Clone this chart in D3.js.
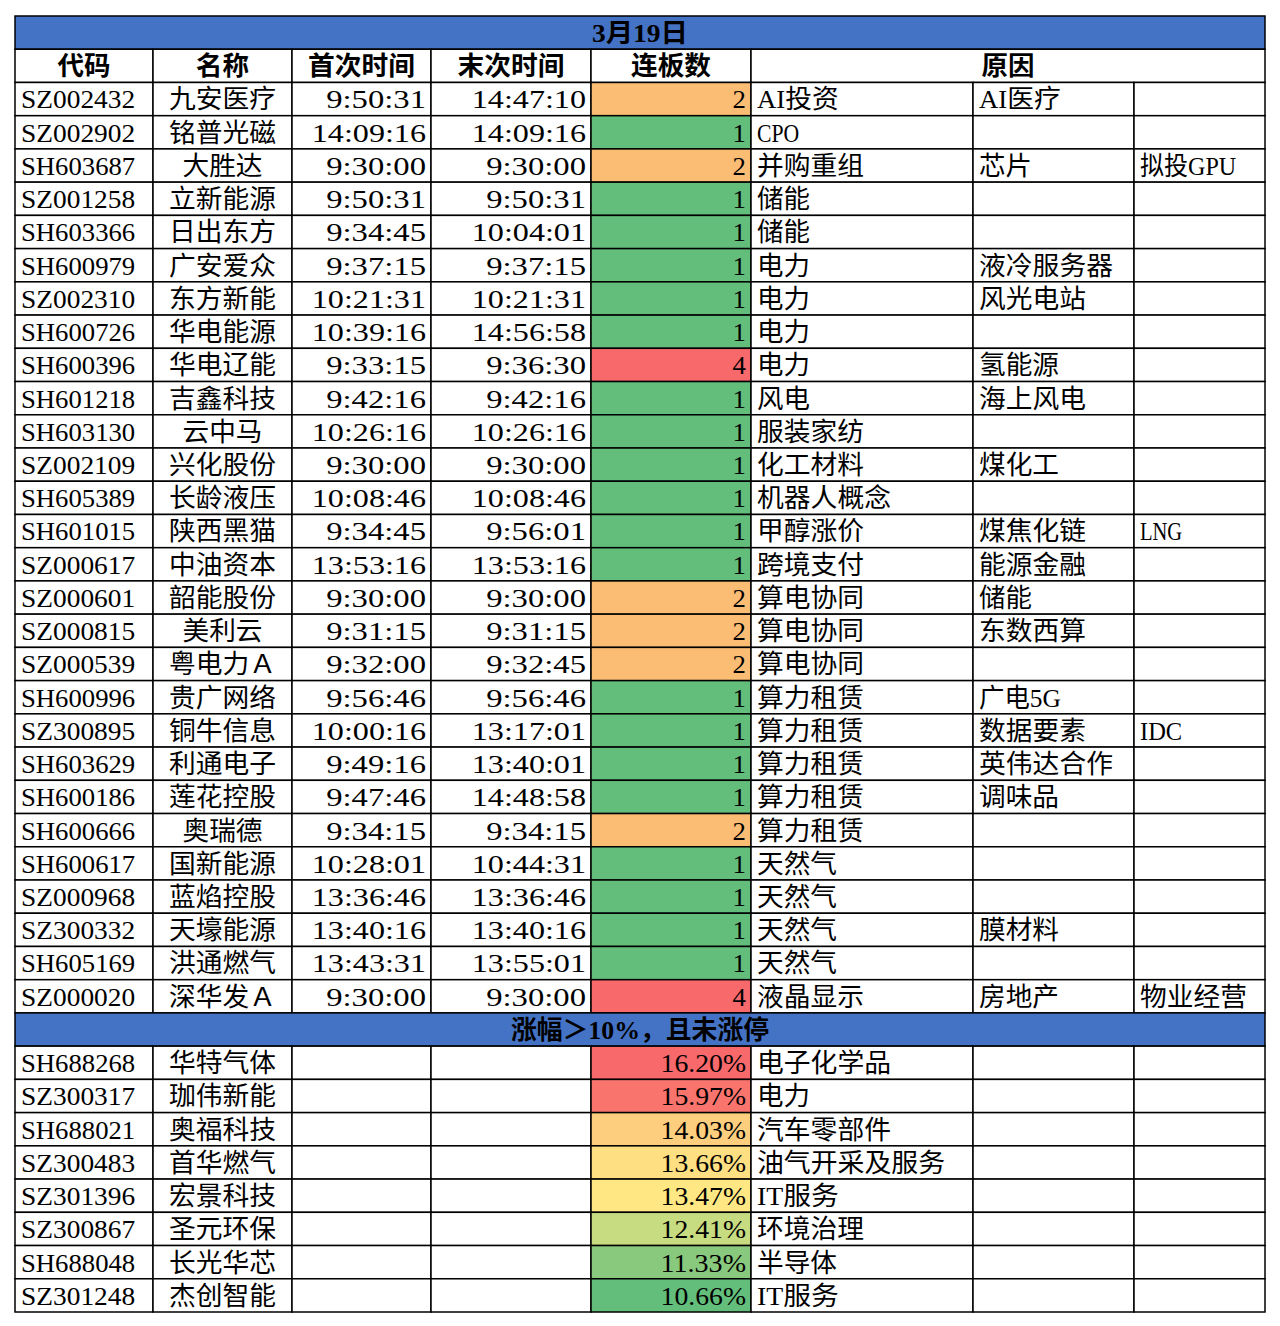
<!DOCTYPE html>
<html><head><meta charset="utf-8">
<script src="https://cdn.jsdelivr.net/npm/d3@7"></script>
<style>body{margin:0;background:#fff}svg text{font-family:"Liberation Serif","Noto Sans CJK SC",serif;font-size:26px;fill:#000}</style>
</head><body><svg id="c" width="1280" height="1326"></svg>
<script>
const title = '3月19日';
const subTitle = '涨幅＞10%，且未涨停';
const headers = ['代码','名称','首次时间','末次时间','连板数','原因'];
const codes = ['SZ002432','SZ002902','SH603687','SZ001258','SH603366','SH600979','SZ002310','SH600726','SH600396','SH601218','SH603130','SZ002109','SH605389','SH601015','SZ000617','SZ000601','SZ000815','SZ000539','SH600996','SZ300895','SH603629','SH600186','SH600666','SH600617','SZ000968','SZ300332','SH605169','SZ000020'];
const names = ['九安医疗','铭普光磁','大胜达','立新能源','日出东方','广安爱众','东方新能','华电能源','华电辽能','吉鑫科技','云中马','兴化股份','长龄液压','陕西黑猫','中油资本','韶能股份','美利云','粤电力Ａ','贵广网络','铜牛信息','利通电子','莲花控股','奥瑞德','国新能源','蓝焰控股','天壕能源','洪通燃气','深华发Ａ'];
const firstTimes = ['9:50:31','14:09:16','9:30:00','9:50:31','9:34:45','9:37:15','10:21:31','10:39:16','9:33:15','9:42:16','10:26:16','9:30:00','10:08:46','9:34:45','13:53:16','9:30:00','9:31:15','9:32:00','9:56:46','10:00:16','9:49:16','9:47:46','9:34:15','10:28:01','13:36:46','13:40:16','13:43:31','9:30:00'];
const lastTimes = ['14:47:10','14:09:16','9:30:00','9:50:31','10:04:01','9:37:15','10:21:31','14:56:58','9:36:30','9:42:16','10:26:16','9:30:00','10:08:46','9:56:01','13:53:16','9:30:00','9:31:15','9:32:45','9:56:46','13:17:01','13:40:01','14:48:58','9:34:15','10:44:31','13:36:46','13:40:16','13:55:01','9:30:00'];
const boards = [2,1,2,1,1,1,1,1,4,1,1,1,1,1,1,2,2,2,1,1,1,1,2,1,1,1,1,4];
const reason1 = ['AI投资','CPO','并购重组','储能','储能','电力','电力','电力','电力','风电','服装家纺','化工材料','机器人概念','甲醇涨价','跨境支付','算电协同','算电协同','算电协同','算力租赁','算力租赁','算力租赁','算力租赁','算力租赁','天然气','天然气','天然气','天然气','液晶显示'];
const reason2 = ['AI医疗','','芯片','','','液冷服务器','风光电站','','氢能源','海上风电','','煤化工','','煤焦化链','能源金融','储能','东数西算','','广电5G','数据要素','英伟达合作','调味品','','','','膜材料','','房地产'];
const reason3 = ['','','拟投GPU','','','','','','','','','','','LNG','','','','','','IDC','','','','','','','','物业经营'];
const codes2 = ['SH688268','SZ300317','SH688021','SZ300483','SZ301396','SZ300867','SH688048','SZ301248'];
const names2 = ['华特气体','珈伟新能','奥福科技','首华燃气','宏景科技','圣元环保','长光华芯','杰创智能'];
const pcts = [16.20,15.97,14.03,13.66,13.47,12.41,11.33,10.66];
const reasons2 = ['电子化学品','电力','汽车零部件','油气开采及服务','IT服务','环境治理','半导体','IT服务'];

const svg = d3.select('#c');
const colEdges = [15,153,292,431,591,751,973,1134,1265];
const nRows = 2 + codes.length + 1 + codes2.length;
const y = d3.scaleLinear().domain([0, nRows]).range([16, 1312]);
const boardColor = d3.scaleOrdinal().domain([1,2,4]).range(['#63be7b','#fbbd73','#f8696b']);
const pctColor = d3.scaleLinear().domain([d3.min(pcts), 13.4, d3.max(pcts)]).range(['#63be7b','#ffeb84','#f8696b']);
const blue = '#4472c4';

// mimic the wide half-width glyphs of the original font
function fit(t, s){
  const w = Array.from(s).reduce((a,ch)=>a + (ch.charCodeAt(0) < 128 ? 14.4 : 27), 0);
  t.attr('textLength', w - 1).attr('lengthAdjust','spacingAndGlyphs');
}
function band(r, text){
  svg.append('rect').attr('x',colEdges[0]).attr('y',y(r)).attr('width',colEdges[8]-colEdges[0]).attr('height',y(r+1)-y(r)).attr('fill',blue).attr('stroke','#000').attr('stroke-width',1.5);
  const t = svg.append('text').attr('x',640).attr('y',y(r+0.5)).attr('dy','0.36em').attr('text-anchor','middle').attr('font-weight','bold').text(text);
  fit(t, text);
}
function cell(r, c, text, align, fill, span){
  const x0 = colEdges[c], x1 = colEdges[c + (span||1)];
  svg.append('rect').attr('x',x0).attr('y',y(r)).attr('width',x1-x0).attr('height',y(r+1)-y(r)).attr('fill',fill||'#fff').attr('stroke','#000').attr('stroke-width',1.5);
  if (!text) return;
  const t = svg.append('text').attr('y',y(r+0.5)).attr('dy','0.36em');
  if (align==='l') t.attr('x',x0+6); else if (align==='r') t.attr('x',x1-5).attr('text-anchor','end'); else t.attr('x',(x0+x1)/2).attr('text-anchor','middle');
  t.text(text);
  fit(t, text);
  return t;
}

band(0, title);
headers.forEach((h,i)=>{ const t = cell(1, i, h, 'c', null, i===5?3:1); t.attr('font-weight','bold'); });
codes.forEach((code,i)=>{
  const r = i + 2;
  cell(r,0,code,'l'); cell(r,1,names[i],'c'); cell(r,2,firstTimes[i],'r'); cell(r,3,lastTimes[i],'r');
  cell(r,4,String(boards[i]),'r',boardColor(boards[i]));
  cell(r,5,reason1[i],'l'); cell(r,6,reason2[i],'l'); cell(r,7,reason3[i],'l');
});
const r0 = codes.length + 2;
band(r0, subTitle);
codes2.forEach((code,i)=>{
  const r = r0 + 1 + i;
  cell(r,0,code,'l'); cell(r,1,names2[i],'c'); cell(r,2,'','r'); cell(r,3,'','r');
  cell(r,4,pcts[i].toFixed(2)+'%','r',pctColor(pcts[i]));
  cell(r,5,reasons2[i],'l'); cell(r,6,''); cell(r,7,'');
});
</script></body></html>
